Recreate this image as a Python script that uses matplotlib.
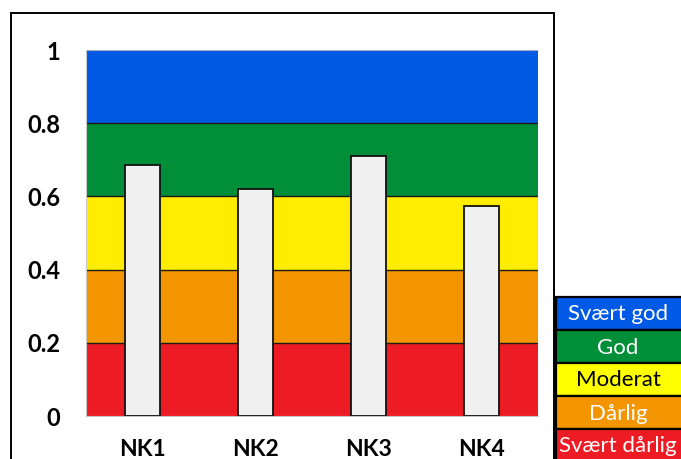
import matplotlib
matplotlib.use("Agg")
import matplotlib.pyplot as plt
from matplotlib.patches import Rectangle

# Station scores
stations = ["NK1", "NK2", "NK3", "NK4"]
scores = [0.686, 0.621, 0.710, 0.575]

# Condition classes (lower bound, upper bound), from worst to best
class_names = ["Svært dårlig", "Dårlig", "Moderat", "God", "Svært god"]
class_lower = [0.0, 0.2, 0.4, 0.6, 0.8]
class_upper = [0.2, 0.4, 0.6, 0.8, 1.0]
class_colors = ["#ED1C24", "#F29500", "#FFED00", "#008E39", "#0059E3"]
legend_colors = ["#ED1C24", "#F29500", "#FFFF00", "#008E39", "#005AE6"]
legend_text_colors = ["white", "white", "black", "white", "white"]

y_ticks = [0, 0.2, 0.4, 0.6, 0.8, 1]
y_tick_labels = ["0", "0.2", "0.4", "0.6", "0.8", "1"]

W, H = 681, 459
fig = plt.figure(figsize=(W / 100, H / 100), dpi=100)

def fx(px):
    return px / W

def fy(py):
    return 1 - py / H

# outer chart frame
fig.add_artist(Rectangle((fx(11), fy(470)), fx(554) - fx(11), fy(13) - fy(470),
                         transform=fig.transFigure, fill=False,
                         edgecolor="black", linewidth=1.4, zorder=0))

ax = fig.add_axes([fx(86), fy(416), fx(538) - fx(86), fy(50) - fy(416)])
ax.set_xlim(-0.5, len(stations) - 0.5)
ax.set_ylim(0, 1)

# class bands
for lo, hi, c in zip(class_lower, class_upper, class_colors):
    ax.axhspan(lo, hi, facecolor=c, edgecolor="none", zorder=1)
for lo in class_lower[1:]:
    ax.axhline(lo, color="#1a1a1a", linewidth=1.0, zorder=2)
ax.axhline(1.0, color="#a0a8c0", linewidth=0.8, zorder=2)

# score bars
ax.bar(range(len(stations)), scores, width=0.31, color="#F0F0F0",
       edgecolor="#111111", linewidth=1.3, zorder=3)

for s in ["top", "right"]:
    ax.spines[s].set_visible(False)
ax.spines["left"].set_color("#c8c8c8")
ax.spines["bottom"].set_color("#c8c8c8")
ax.spines["left"].set_linewidth(0.8)
ax.spines["bottom"].set_linewidth(0.8)

ax.set_yticks(y_ticks)
ax.set_yticklabels(y_tick_labels, fontfamily="Lato", fontweight="bold", fontsize=17)
ax.set_xticks(range(len(stations)))
ax.set_xticklabels(stations, fontfamily="Lato", fontweight="bold", fontsize=16.5)
ax.tick_params(axis="y", length=0, pad=18.5)
ax.tick_params(axis="x", length=0, pad=16.8)

# class legend
cell_top = 297
cell_h = 33
x0, x1 = 556, 690
for i, name in enumerate(reversed(class_names)):
    idx = len(class_names) - 1 - i
    top = cell_top + i * cell_h
    fig.add_artist(Rectangle((fx(x0), fy(top + cell_h)), fx(x1) - fx(x0), fy(top) - fy(top + cell_h),
                             transform=fig.transFigure, facecolor=legend_colors[idx],
                             edgecolor="black", linewidth=1.6, zorder=5))
    fig.text(fx(618), fy(top + cell_h / 2 + 1), name, ha="center", va="center",
             fontfamily="Lato", fontsize=16, color=legend_text_colors[idx], zorder=6)

fig.savefig("out.png", dpi=100)
